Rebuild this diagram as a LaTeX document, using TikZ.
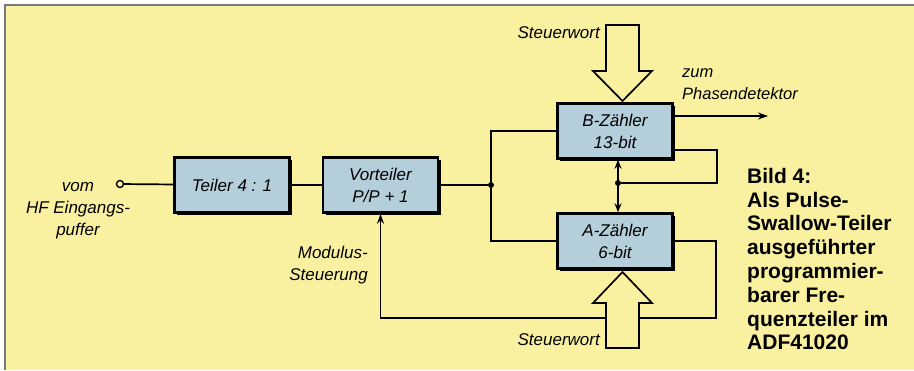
\documentclass[tikz,border=0pt]{standalone}
\usepackage{fontspec}
\setmainfont{Liberation Sans}
\usetikzlibrary{positioning, arrows.meta, shadows, calc}
\definecolor{paperyellow}{RGB}{250,241,160}
\definecolor{boxblue}{RGB}{180,206,218}
\definecolor{framegrey}{RGB}{120,120,120}

\begin{document}
\begin{tikzpicture}[
  x=1pt, y=-1pt,
  font=\itshape\fontsize{17}{22}\selectfont,
  blockbox/.style={
    draw=black,
    line width=2.5pt,
    fill=boxblue,
    rectangle,
    minimum width=115pt,
    minimum height=55pt,
    align=center,
    inner sep=2pt,
    drop shadow={shadow xshift=2.5pt, shadow yshift=-2.5pt, fill=black, opacity=1}
  },
  wire/.style={line width=1.7pt},
  sig/.style={wire, -{Stealth[length=10pt, width=7pt]}},
  dot/.style={circle, fill=black, inner sep=0pt, minimum size=6pt},
  wordarrow/.style={draw=black, line width=1.7pt, fill=paperyellow, line join=miter},
  label/.style={inner sep=0pt}
]
  \useasboundingbox (0,0) rectangle (914,370);

  % --- Paper and frame ---
  \fill[white] (0,0) rectangle (914,370);
  \fill[paperyellow] (5,5) rectangle (914,370);
  \draw[framegrey, line width=2pt] (5,370) -- (5,5) -- (914,5);

  % --- Blocks ---
  \node[blockbox]                        (teiler)    at (232,185) {Teiler 4 : 1};
  \node[blockbox, right=31pt of teiler]  (vorteiler)           {Vorteiler\\P/P + 1};
  \node[blockbox]                        (bzaehler)  at (615,131) {B-Zähler\\13-bit};
  \node[blockbox]                        (azaehler)  at (615,241) {A-Zähler\\6-bit};

  % --- Input and chain ---
  \node[circle, draw, line width=1.4pt, fill=paperyellow, inner sep=0pt, minimum size=7pt]
       (hfin) at (120,184) {};
  \node[dot] (split) at (491,185) {};
  \draw[wire] (hfin) -- (teiler);
  \draw[wire] (teiler) -- (vorteiler);
  \draw[wire] (vorteiler) -- (split);
  \draw[wire] (bzaehler.west) -| (split) |- (azaehler.west);

  % --- Output to phase detector ---
  \coordinate (pdout) at (768,116);
  \draw[sig] (bzaehler.east |- pdout) -- (pdout);

  % --- Coupling between the counters ---
  \node[dot] (bus) at (618,183) {};
  \coordinate (bfb) at (717,150);
  \draw[wire] (bzaehler.east |- bfb) -- (bfb) |- (bus);
  \draw[wire, {Stealth[length=9pt, width=7pt]}-{Stealth[length=9pt, width=7pt]}]
       (bus |- bzaehler.south) -- (bus |- azaehler.north);

  % --- Modulus feedback ---
  \coordinate (afb) at (716,318);
  \draw[sig] (azaehler.east) -| (afb) -| (vorteiler.south);

  % --- Control word arrows ---
  \draw[wordarrow] (606,25) -- (639,25) -- (639,71) -- (652,71) -- (622.5,101)
                   -- (593,71) -- (606,71) -- cycle;
  \draw[wordarrow] (606,348) -- (639,348) -- (639,303) -- (652,303) -- (622.5,272)
                   -- (593,303) -- (606,303) -- cycle;

  % --- Labels ---
  \node[label, align=center] (hflabel) at (78,211) {vom\\HF Eingangs-\\puffer};
  \node[label, anchor=east, align=right] (modlabel) at (368,265) {Modulus-\\Steuerung};
  \node[label, anchor=east] (swtop) at (600,33) {Steuerwort};
  \node[label, anchor=east] (swbot) at (600,340) {Steuerwort};
  \node[label, anchor=west, align=left, font=\itshape\fontsize{16.5}{22}\selectfont]
       (pdlabel) at (682,84) {zum\\Phasendetektor};

  % --- Caption ---
  \node[label, anchor=west, align=left, font=\bfseries\fontsize{21}{23.8}\selectfont]
       (caption) at (747,259)
       {Bild 4:\\Als Pulse-\\Swallow-Teiler\\ausgeführter\\programmier-\\barer Fre-\\quenzteiler im\\ADF41020};

\end{tikzpicture}
\end{document}
